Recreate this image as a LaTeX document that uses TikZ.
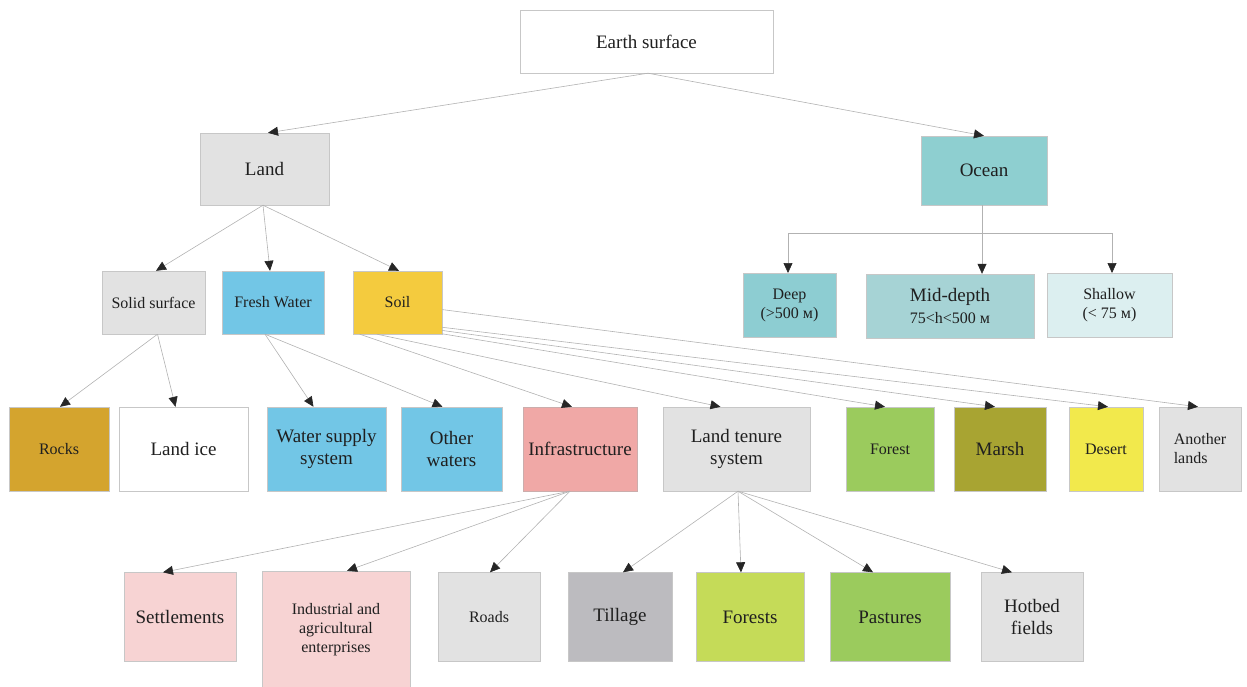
\documentclass[tikz,border=0pt]{standalone}
\usepackage{fontspec}
\setmainfont{Liberation Serif}
\usetikzlibrary{arrows.meta}

\definecolor{boxgray}{HTML}{E2E2E2}
\definecolor{oceancol}{HTML}{8ECFD0}
\definecolor{deepcol}{HTML}{8DCDD2}
\definecolor{midcol}{HTML}{A6D3D5}
\definecolor{shallowcol}{HTML}{DCEFF0}
\definecolor{watercol}{HTML}{72C6E6}
\definecolor{soilcol}{HTML}{F4CB3E}
\definecolor{rockcol}{HTML}{D4A42E}
\definecolor{infracol}{HTML}{F0A8A6}
\definecolor{forestcol}{HTML}{9BCB5D}
\definecolor{marshcol}{HTML}{A8A432}
\definecolor{desertcol}{HTML}{F2E94C}
\definecolor{settlecol}{HTML}{F7D3D3}
\definecolor{tillcol}{HTML}{BCBBBF}
\definecolor{forestscol}{HTML}{C5DB58}

\tikzset{
  box/.style={draw=black!22, inner sep=0pt, align=center, text=black!88,
    font=\fontsize{19}{22}\selectfont},
  small/.style={font=\fontsize{16}{19}\selectfont},
  conn/.style={draw=black!30, line width=0.6pt,
    -{Triangle[length=10pt,width=9pt,color=black!85]}},
  tree/.style={draw=black!30, line width=0.6pt}
}

\begin{document}
\begin{tikzpicture}[x=1pt,y=-1pt]
  \useasboundingbox (0,0) rectangle (1247,686);
  % TOP LEVEL
  \node[box, fill=white, minimum width=253, minimum height=63] (earth) at (646.5,41.5) {Earth surface};
  % Land and ocean
  \node[box, fill=boxgray, minimum width=129, minimum height=72] (land) at (264.5,169) {Land};
  \node[box, fill=oceancol, minimum width=126, minimum height=69] (ocean) at (984,170.5) {Ocean};
  % Land children
  \node[box, small, fill=boxgray, minimum width=103, minimum height=63] (solid) at (153.5,302.5) {Solid surface};
  \node[box, small, fill=watercol, minimum width=102, minimum height=63] (fresh) at (273,302.5) {Fresh Water};
  \node[box, small, fill=soilcol, minimum width=89, minimum height=63] (soil) at (397.5,302.5) {Soil};
  % Ocean children
  \node[box, small, fill=deepcol, minimum width=93, minimum height=64] (deep) at (789.5,305) {Deep\\(>500 м)};
  \node[box, fill=midcol, minimum width=168, minimum height=64] (mid) at (950,306) {Mid-depth\\{\fontsize{16}{18}\selectfont 75<h<500 м}};
  \node[box, small, fill=shallowcol, minimum width=125, minimum height=64] (shallow) at (1109.5,305) {Shallow\\(< 75 м)};
  % THIRD LEVEL
  \node[box, small, fill=rockcol, minimum width=100, minimum height=84] (rocks) at (59,449) {Rocks};
  \node[box, fill=white, minimum width=129, minimum height=84] (landice) at (183.5,449) {Land ice};
  \node[box, fill=watercol, minimum width=119, minimum height=84] (supply) at (326.5,449) {Water supply\\system};
  \node[box, fill=watercol, minimum width=101, minimum height=84] (other) at (451.5,449) {Other\\waters};
  \node[box, fill=infracol, draw=infracol!70!black!60, minimum width=114, minimum height=84] (infra) at (580,449) {Infrastructure};
  \node[box, fill=boxgray, minimum width=147, minimum height=84] (tenure) at (736.5,449) {Land tenure\\system};
  \node[box, small, fill=forestcol, minimum width=88, minimum height=84] (forest) at (890,449) {Forest};
  \node[box, fill=marshcol, minimum width=92, minimum height=84] (marsh) at (1000,449) {Marsh};
  \node[box, small, fill=desertcol, minimum width=74, minimum height=84] (desert) at (1106,449) {Desert};
  \node[box, small, fill=boxgray, minimum width=82, minimum height=84, align=left] (another) at (1200,449) {Another\\lands};
  % BOTTOM LEVEL
  \node[box, fill=settlecol, minimum width=112, minimum height=89] (settle) at (180,617) {Settlements};
  \node[box, small, fill=settlecol, minimum width=148, minimum height=116] (industry) at (336,629) {};
  \node[small, align=center, text=black!88] (industrytext) at (336,630) {Industrial and\\agricultural\\enterprises};
  \node[box, small, fill=boxgray, minimum width=102, minimum height=89] (roads) at (489,617) {Roads};
  \node[box, fill=tillcol, minimum width=104, minimum height=89] (tillage) at (620,617) {Tillage};
  \node[box, fill=forestscol, minimum width=108, minimum height=89] (forests) at (750,617) {Forests};
  \node[box, fill=forestcol, minimum width=120, minimum height=89] (pastures) at (890,617) {Pastures};
  \node[box, fill=boxgray, minimum width=102, minimum height=89] (hotbed) at (1032,617) {Hotbed\\fields};
  % Connectors from the top
  \draw[conn] ([xshift=1.5pt]earth.south) -- ([xshift=3.5pt]land.north);
  \draw[conn] ([xshift=1.5pt]earth.south) -- (ocean.north);
  \draw[conn] ([xshift=-1.5pt]land.south) -- ([xshift=2.5pt]solid.north);
  \draw[conn] ([xshift=-1.5pt]land.south) -- ([xshift=-3pt]fresh.north);
  \draw[conn] ([xshift=-1.5pt]land.south) -- ([xshift=1.5pt]soil.north);
  % Ocean tree
  \coordinate (obranch) at (982,233);
  \draw[tree] (ocean.south -| obranch) -- (obranch);
  \draw[tree] (788,233) -- (1112,233);
  \draw[conn] (788,233) -- (788,273);
  \draw[conn] (obranch) -- (obranch |- mid.north);
  \draw[conn] (1112,233) -- (1112,273);
  % Solid surface and fresh water
  \draw[conn] ([xshift=4pt]solid.south) -- ([xshift=1pt]rocks.north);
  \draw[conn] ([xshift=4pt]solid.south) -- ([xshift=-8pt]landice.north);
  \draw[conn] ([xshift=-8pt]fresh.south) -- ([xshift=-13pt]supply.north);
  \draw[conn] ([xshift=-8pt]fresh.south) -- ([xshift=-9pt]other.north);
  % Soil
  \draw[conn] (soil.220) -- ([xshift=-8pt]infra.north);
  \draw[conn] (soil.237) -- ([xshift=-16pt]tenure.north);
  \draw[conn] (soil.-35) -- ([xshift=-5pt]forest.north);
  \draw[conn] (soil.-32) -- ([xshift=-5pt]marsh.north);
  \draw[conn] (soil.-29) -- ([xshift=2pt]desert.north);
  \draw[conn] (soil.-9.6) -- ([xshift=-2pt]another.north);
  % Infrastructure and land tenure
  \draw[conn] ([xshift=-10pt]infra.south) -- ([xshift=-17pt]settle.north);
  \draw[conn] ([xshift=-10pt]infra.south) -- ([xshift=11pt]industry.north);
  \draw[conn] ([xshift=-10pt]infra.south) -- ([xshift=1pt]roads.north);
  \draw[conn] ([xshift=1.5pt]tenure.south) -- ([xshift=3pt]tillage.north);
  \draw[conn] ([xshift=1.5pt]tenure.south) -- ([xshift=-9pt]forests.north);
  \draw[conn] ([xshift=1.5pt]tenure.south) -- ([xshift=-17pt]pastures.north);
  \draw[conn] ([xshift=1.5pt]tenure.south) -- ([xshift=-20pt]hotbed.north);
\end{tikzpicture}
\end{document}
